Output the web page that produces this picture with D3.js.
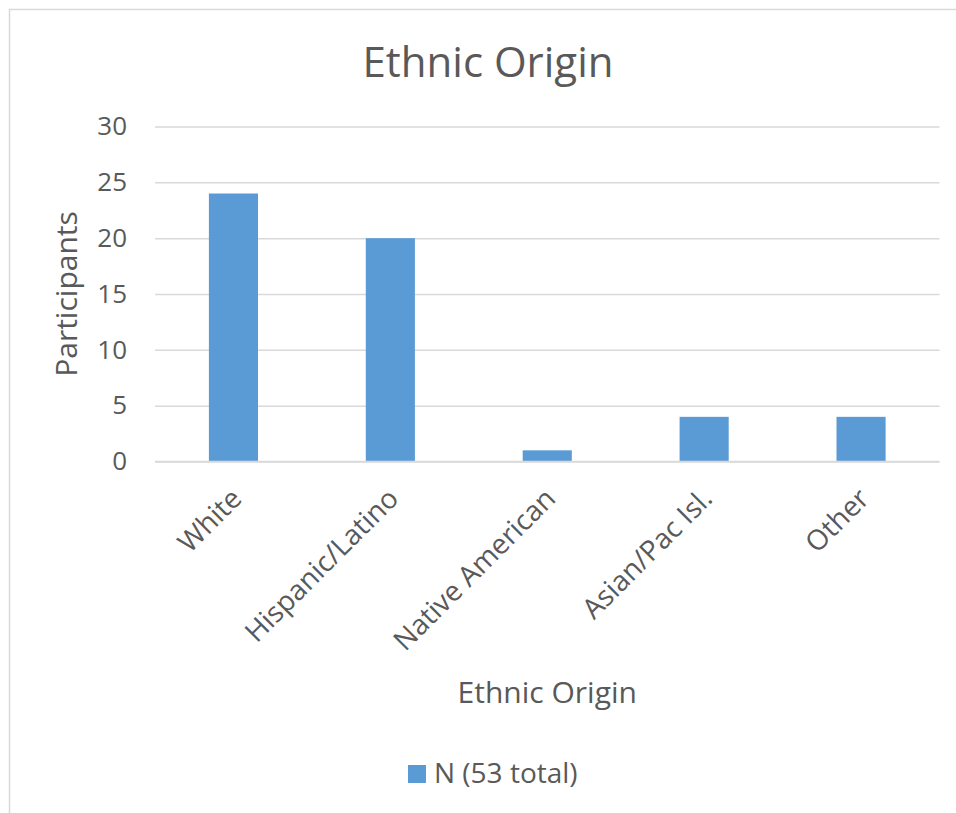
<!DOCTYPE html>
<html>
<head>
<meta charset="utf-8">
<script src="https://cdn.jsdelivr.net/npm/d3@7"></script>
<style>
    body { margin: 0; background: #fff; }
    text { font-family: "Open Sans", sans-serif; fill: #595959; }
</style>
</head>
<body>
<svg id="chart"></svg>
<script>
var categories = ["White", "Hispanic/Latino", "Native American", "Asian/Pac Isl.", "Other"];
var counts = [24, 20, 1, 4, 4];
var yTicks = [0, 5, 10, 15, 20, 25, 30];
var seriesName = "N (53 total)";

var svg = d3.select("#chart")
    .attr("width", 956)
    .attr("height", 813);

// chart border (runs off the right/bottom edges)
svg.append("rect")
    .attr("x", 9.5).attr("y", 9.5)
    .attr("width", 1000).attr("height", 1000)
    .attr("fill", "#fff")
    .attr("stroke", "#d9d9d9")
    .attr("stroke-width", 1.5);

var margin = { left: 155, right: 939.5, top: 126.5, bottom: 461.5 };

var x = d3.scaleBand()
    .domain(categories)
    .range([margin.left, margin.right])
    .paddingInner(0.687)
    .paddingOuter(0.3435);

var y = d3.scaleLinear()
    .domain([0, 30])
    .range([margin.bottom, margin.top]);

// gridlines + y labels
var yAxis = d3.axisLeft(y)
    .tickValues(yTicks)
    .tickSize(-(margin.right - margin.left))
    .tickPadding(28)
    .tickFormat(d3.format("d"));

var yg = svg.append("g")
    .attr("transform", "translate(" + margin.left + ",0)")
    .call(yAxis);
yg.select(".domain").remove();
yg.selectAll("line").attr("stroke", "#d9d9d9").attr("stroke-width", 1.5);
yg.selectAll("text")
    .style("font-family", "'Open Sans', sans-serif")
    .style("font-size", "26px")
    .attr("fill", "#595959");

// bars
svg.append("g").selectAll("rect")
    .data(counts)
    .enter()
    .append("rect")
    .attr("x", function (d, i) { return x(categories[i]); })
    .attr("y", function (d) { return y(d); })
    .attr("width", x.bandwidth())
    .attr("height", function (d) { return y(0) - y(d); })
    .attr("fill", "#5b9bd5");

// x axis line
svg.append("line")
    .attr("x1", margin.left).attr("x2", margin.right)
    .attr("y1", y(0)).attr("y2", y(0))
    .attr("stroke", "#d9d9d9").attr("stroke-width", 1.5);

// rotated category labels
svg.append("g").selectAll("text")
    .data(categories)
    .enter()
    .append("text")
    .attr("text-anchor", "end")
    .attr("transform", function (d) {
        return "translate(" + (x(d) + x.bandwidth() / 2 - 4) + "," + (y(0) + 25) + ") rotate(-45)";
    })
    .attr("dy", "0.7em")
    .style("font-size", "28px")
    .text(function (d) { return d; });

// titles
svg.append("text")
    .attr("x", 488).attr("y", 77)
    .attr("text-anchor", "middle")
    .style("font-size", "42px")
    .text("Ethnic Origin");

svg.append("text")
    .attr("transform", "translate(77," + ((margin.top + margin.bottom) / 2) + ") rotate(-90)")
    .attr("text-anchor", "middle")
    .style("font-size", "30px")
    .text("Participants");

svg.append("text")
    .attr("x", (margin.left + margin.right) / 2).attr("y", 703)
    .attr("text-anchor", "middle")
    .style("font-size", "30px")
    .text("Ethnic Origin");

// legend
var lg = svg.append("g").attr("transform", "translate(408,765)");
lg.append("rect")
    .attr("width", 18).attr("height", 18)
    .attr("fill", "#5b9bd5");
lg.append("text")
    .attr("x", 26).attr("y", 18)
    .style("font-size", "28px")
    .text(seriesName);
</script>
</body>
</html>
